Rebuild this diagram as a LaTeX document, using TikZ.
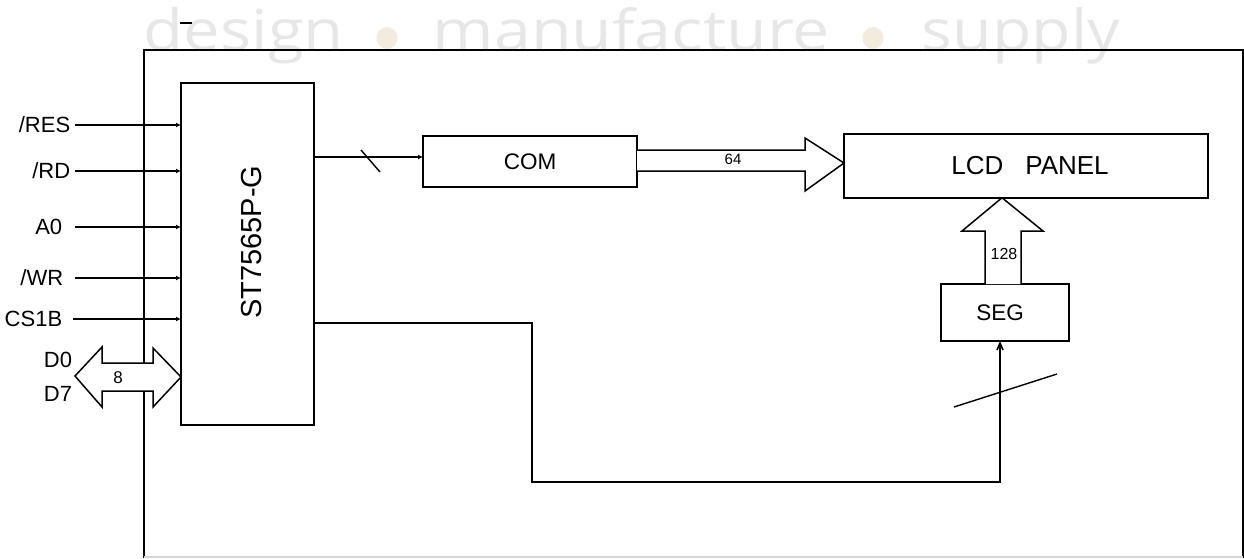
\documentclass[tikz,border=0pt]{standalone}
\usepackage{fontspec}
\setmainfont{Liberation Sans}
\newfontfamily\wmfont{Open Sans}
\usetikzlibrary{arrows.meta}
\definecolor{wmgray}{RGB}{231,231,231}
\definecolor{wmbeige}{RGB}{243,235,222}
\definecolor{edgegray}{RGB}{215,215,215}
\begin{document}
\begin{tikzpicture}[x=1pt,y=-1pt, line width=1.6pt, line join=miter,
  blk/.style={draw, inner sep=0pt, outer sep=0pt},
  lbl/.style={font=\fontsize{22}{26}\selectfont, anchor=east, inner sep=0pt},
  small/.style={inner sep=0pt},
  inarrow/.style={-{Latex[length=5pt,width=5pt]}},
  segarrow/.style={-{Straight Barb[length=7pt,width=6pt]}},
  bigarrow/.style={draw, fill=white, line width=1.5pt},
  wm/.style={anchor=base west, inner sep=0pt, text=wmgray}
]
\useasboundingbox (0,0) rectangle (1244,558);
% watermark
\node[wm] (wm1) at (143,50) {\resizebox{200pt}{43pt}{\wmfont design}};
\node[wm] (wm2) at (432,50) {\resizebox{397pt}{43pt}{\wmfont manufacture}};
\node[wm] (wm3) at (921,50) {\resizebox{198pt}{43pt}{\wmfont supply}};
\fill[wmbeige] (387,38) ellipse [x radius=10.5pt, y radius=11pt];
\fill[wmbeige] (873,38) ellipse [x radius=10.5pt, y radius=11pt];
\draw[line width=1.4pt] (180,23) -- (192,23);
% frame
\draw[line width=2pt] (144,558) -- (144,50) -- (1243,50) -- (1243,558);
\draw[edgegray, line width=1.2pt] (144,557) -- (1243,557);

% blocks
\node[blk, minimum width=133pt, minimum height=342pt] (chip) at (247.5,254) {};
\node[small, rotate=90, font=\fontsize{29}{32}\selectfont] (chiptext) at (251.5,242) {ST7565P-G};
\node[blk, minimum width=214pt, minimum height=51pt, font=\fontsize{22.5}{26}\selectfont] (com) at (530,161.5) {COM};
\node[blk, minimum width=364pt, minimum height=63.5pt, font=\fontsize{26}{30}\selectfont] (lcd) at (1026,166) {\hspace{8pt}LCD\hspace{22pt}PANEL};
\node[blk, minimum width=128pt, minimum height=57pt, font=\fontsize{22.5}{26}\selectfont] (seg) at (1005,312.5) {\hspace{-10pt}SEG};

% input labels
\node[lbl] (res) at (71,125) {/RES};
\node[lbl] (rd) at (71,171) {/RD};
\node[lbl] (a0) at (63,227) {A0};
\node[lbl] (wr) at (64,278) {/WR};
\node[lbl] (cs) at (63,319) {CS1B};
\node[lbl, anchor=center] (d0) at (58,360) {D0};
\node[lbl, anchor=center] (d7) at (58,394) {D7};

\draw[inarrow] ([xshift=4pt]res.east) -- (chip.west |- res.east);
\draw[inarrow] ([xshift=4pt]rd.east) -- (chip.west |- rd.east);
\draw[inarrow] ([xshift=12pt]a0.east) -- (chip.west |- a0.east);
\draw[inarrow] ([xshift=11pt]wr.east) -- (chip.west |- wr.east);
\draw[inarrow] ([xshift=10pt]cs.east) -- (chip.west |- cs.east);

% data bus double arrow
\draw[bigarrow] (75,376) -- (102,347) -- (102,363) -- (153,363) -- (153,348) -- (181,377)
  -- (153,407) -- (153,391) -- (102,391) -- (102,407) -- cycle;
\node[small, font=\fontsize{17}{20}\selectfont] (eight) at (118,378) {8};

% chip to COM
\draw[inarrow] (chip.east |- {(0,157)}) -- (com.west |- {(0,157)});
\draw[line width=1.4pt] (361,150) -- (380,172);

% COM to LCD bus
\draw[bigarrow] (com.east |- {(0,150)}) -- (805,150) -- (805,138) -- (lcd.west |- {(0,163)})
  -- (805,191) -- (805,171) -- (com.east |- {(0,171)});
\node[small, font=\fontsize{15}{18}\selectfont] (n64) at (733,159) {64};

% SEG to LCD bus
\draw[bigarrow] (985,284) -- (985,231) -- (962,231) -- (lcd.south -| {(1002,0)})
  -- (1043,231) -- (1021,231) -- (1021,284);
\node[small, font=\fontsize{16}{19}\selectfont] (n128) at (1004,254) {128};

% chip to SEG
\draw[segarrow] (chip.east |- {(0,323)}) -- (532,323) -- (532,482) -- (1000,482) -- (seg.south -| {(1000,0)});
\draw[line width=1.4pt] (954,407) -- (1057,374);
\end{tikzpicture}
\end{document}
